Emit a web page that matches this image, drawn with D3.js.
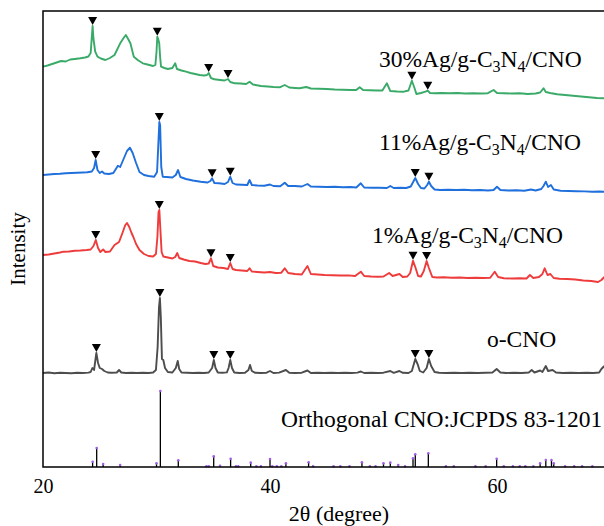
<!DOCTYPE html>
<html><head><meta charset="utf-8">
<script src="https://cdn.jsdelivr.net/npm/d3@7"></script>
<style>
html,body{margin:0;padding:0;background:#fff;}
svg{display:block;font-family:"Liberation Serif","Times New Roman",serif;}
</style>
</head><body>
<svg id="c" width="604" height="526"></svg>
<script>
// ---------- DATA ----------
const xTicks = [20, 40, 60];
const xLabel = "2θ (degree)";
const yLabel = "Intensity";

// stacked patterns, [2θ, intensity (a.u., offset included)]
const oCNO = [[20,94],[20.5,94.5],[21,93.8],[21.5,94.3],[22,94],[22.5,93.7],[23,94.2],[23.5,94],[24,94.4],[24.2,95],[24.35,99],[24.5,97],[24.7,114],[24.85,104],[25,99],[25.2,98],[25.4,96],[25.7,94.5],[26,94.2],[26.5,94.5],[26.7,97],[26.9,94.5],[27.3,94],[27.8,94.3],[28.3,94],[28.8,94.2],[29.3,94],[29.7,94.5],[29.95,97],[30.1,120],[30.22,160],[30.3,169],[30.38,150],[30.48,108],[30.6,107],[30.75,99],[31,95],[31.4,94.5],[31.7,99],[31.87,106],[32,98],[32.2,94.5],[32.7,94.2],[33.2,94],[33.7,94.3],[34.2,94],[34.6,94.5],[34.9,99],[35.05,107],[35.2,99],[35.4,94.5],[35.8,94.2],[36.2,94.6],[36.35,99],[36.5,107],[36.65,99],[36.85,94.5],[37.3,94],[37.8,94.3],[38.1,97],[38.24,102],[38.4,96],[38.7,94.2],[39.2,94],[39.7,94.3],[40,96],[40.3,94],[40.8,94.4],[41.4,97],[41.7,94.2],[42.2,94],[42.8,94.3],[43.3,96.5],[43.6,94],[44.2,94.2],[44.8,94],[45.4,94.3],[46,94],[46.6,94.2],[47.2,94],[47.7,94.4],[48,95.5],[48.3,94],[48.9,94.2],[49.5,94],[50,94.3],[50.6,96],[50.9,94.2],[51.4,96],[51.7,94.2],[52.2,94],[52.5,96],[52.8,108],[53,103],[53.2,96],[53.5,94.5],[53.8,99],[54,108],[54.2,101],[54.5,95],[54.9,94.2],[55.5,94],[56.2,94.3],[56.9,94],[57.6,94.2],[58.3,94],[59,94.3],[59.6,94.5],[59.97,98],[60.3,94.5],[60.8,94],[61.5,94.2],[62.2,94],[62.8,94.5],[63.06,97],[63.3,94.5],[63.8,96.5],[64,95],[64.3,101],[64.5,96],[64.9,97],[65.2,94.5],[65.8,94],[66.5,94.2],[67.2,94],[67.9,94.3],[68.5,94],[69,94.5],[69.2,98],[69.45,101]];

const ag1 = [[20,212],[20.5,212.5],[21,213.5],[21.5,214.5],[21.8,215.3],[22.3,215.5],[22.8,216.3],[23.3,216.5],[23.85,217],[24.2,217.5],[24.45,221],[24.65,227],[24.85,219],[25.05,215],[25.3,217.5],[25.5,215],[25.9,215.5],[26.3,222],[26.7,225],[27,234],[27.25,242],[27.4,244],[27.6,240],[27.8,234],[27.96,230],[28.2,223],[28.5,217],[28.9,213],[29.3,211],[29.7,210.5],[29.95,213],[30.08,230],[30.18,255],[30.25,257],[30.33,240],[30.45,215],[30.6,210.5],[31,209.5],[31.4,208.5],[31.65,210],[31.83,214],[32,209],[32.4,207.5],[32.9,206],[33.4,205.5],[33.9,204],[34.3,203],[34.6,203.5],[34.8,208.7],[35,201],[35.4,199.5],[35.9,199],[36.3,198],[36.5,204],[36.7,198],[37,197],[37.5,196.5],[38,196],[38.2,198.7],[38.4,195.5],[38.9,195],[39.5,194.5],[40,195],[40.5,194],[41,194.3],[41.3,198.7],[41.6,194],[42.2,193],[42.8,192.5],[43.3,201],[43.6,193],[44.2,192.5],[44.8,192],[45.5,191.8],[46.2,191.5],[46.9,191.6],[47.5,191],[48,195.3],[48.3,191],[48.9,190.5],[49.5,190.3],[50,190.5],[50.5,194],[50.8,191],[51.4,193],[51.7,190],[52.1,190.5],[52.35,194],[52.6,206.3],[52.8,200],[53.05,191],[53.3,190.5],[53.55,196],[53.8,206],[54,199],[54.3,190],[54.7,189.5],[55.3,189.8],[56,189.3],[56.7,189.5],[57.4,189],[58.1,189.3],[58.8,189],[59.4,189.2],[59.8,195.3],[60.1,190],[60.6,188.8],[61.3,188.5],[62,188.7],[62.6,188.5],[62.9,192],[63.2,189],[63.7,190],[64,193],[64.2,198.7],[64.45,192],[64.7,193],[65,189],[65.5,188.3],[66.2,188],[66.9,187.5],[67.6,186.5],[68.3,186],[68.9,185],[69.2,187],[69.45,190]];

const ag11 = [[20,292],[20.5,292.5],[21,293],[21.5,293.3],[22,293.8],[22.5,294],[23,294.3],[23.5,294.5],[23.9,294.7],[24.3,295.5],[24.5,299],[24.64,307],[24.8,297],[25,294],[25.2,295.5],[25.4,293.5],[25.8,293],[26.2,294],[26.6,301.3],[26.8,300],[27.1,308],[27.4,316],[27.66,319.3],[27.9,314],[28.2,304],[28.5,295],[28.9,292],[29.3,291],[29.8,290.3],[30.05,295],[30.15,320],[30.25,345],[30.32,342],[30.42,300],[30.55,290.3],[30.9,290],[31.4,289.5],[31.7,292],[31.9,297],[32.1,290],[32.6,288],[33.2,286.5],[33.9,285.3],[34.5,284.5],[34.75,286],[34.9,288.7],[35.1,284],[35.5,283.7],[36,283],[36.3,285],[36.5,290.3],[36.7,284],[37,282.5],[37.5,282.3],[38,282],[38.2,287],[38.4,282],[38.9,281.5],[39.5,281.3],[40,282.5],[40.3,281],[40.9,280.8],[41.3,284.3],[41.6,281],[42.2,281],[42.8,280.5],[43.3,283],[43.6,280.5],[44.3,280.3],[45,280],[45.7,280.2],[46.4,279.8],[47.1,280],[47.6,279.5],[48,283.7],[48.3,279.5],[49,279.3],[49.6,279.2],[50.3,279],[50.6,281],[50.9,279],[51.5,279.3],[52,279],[52.4,280.5],[52.8,289],[53.05,283],[53.3,279],[53.6,278.5],[53.85,282],[54,285.3],[54.2,281],[54.5,277.5],[55,277],[55.7,277.3],[56.4,277],[57.1,277.2],[57.8,276.8],[58.5,277],[59.2,276.5],[59.7,277],[60,280.3],[60.3,277],[61,276.5],[61.7,276.8],[62.4,276.3],[63,277.5],[63.4,276.5],[63.9,278],[64.1,281],[64.3,285.3],[64.5,280],[64.75,282],[65,277.5],[65.6,276.3],[66.3,276],[67,275.8],[67.7,275.6],[68.4,275.3],[69,275.5],[69.45,275.3]];

const ag30 = [[20,400.3],[20.4,401.5],[20.8,403],[21.2,404.5],[21.6,406],[22,405.5],[22.4,407.5],[22.8,408],[23.3,408.7],[23.7,409.5],[24,410.5],[24.2,414],[24.3,430],[24.37,441],[24.45,428],[24.6,415.3],[24.8,410.3],[25.1,408.5],[25.5,407],[25.9,409],[26.3,412],[26.8,423.7],[27.1,429],[27.3,432],[27.5,428],[27.7,423.7],[28,410.3],[28.4,406.5],[28.8,403.7],[29.2,402.5],[29.7,401],[29.9,402],[30,415],[30.07,430.3],[30.15,428],[30.24,423.7],[30.32,410],[30.4,400.3],[30.7,399],[31,398],[31.4,399],[31.65,403.7],[31.8,398],[32.2,396.5],[32.6,395.3],[33,394],[33.4,393],[33.8,392],[34.2,391.5],[34.45,392],[34.6,394],[34.8,389],[35.1,387.7],[35.6,387],[36,386.5],[36.3,388],[36.5,385],[36.9,383.7],[37.4,383.5],[37.9,383],[38.2,385.3],[38.5,382.5],[39.2,381],[39.8,380.5],[40.3,380],[40.9,379.8],[41.3,382],[41.7,379.5],[42.2,379],[42.6,378.7],[43.2,380],[43.6,378.5],[44.3,378.3],[45,378],[45.7,377.5],[46.4,377.3],[47.1,377],[47.6,377],[47.9,379.7],[48.2,377],[48.8,376.8],[49.4,376.5],[49.9,376.5],[50.3,383.7],[50.6,376],[51.2,375.5],[51.8,375.3],[52.2,376.5],[52.5,386.3],[52.7,380],[52.9,373],[53.3,374],[53.7,375.3],[53.9,376.3],[54.1,374],[54.5,373.7],[55.1,374],[55.8,373.7],[56.5,374],[57.2,373.5],[57.9,373.7],[58.6,373.5],[59.2,373.8],[59.7,377],[60,374],[60.6,373.7],[61.3,373.5],[62,373.7],[62.7,373],[63.4,373.5],[63.8,374.5],[64.1,378.7],[64.3,375],[64.5,374.5],[64.8,373.7],[65.3,372.7],[66,372],[66.7,371.3],[67.4,370.5],[68.1,369.7],[68.8,369],[69.45,368.7]];

// CNO reflections marked with ▼
const oCNOMarks = [24.7, 30.3, 35.05, 36.5, 52.8, 54.0];
const ag1Marks  = [24.65, 30.25, 34.8, 36.5, 52.6, 53.8];
const ag11Marks = [24.64, 30.25, 34.9, 36.5, 52.8, 54.0];
const ag30Marks = [24.37, 30.07, 34.6, 36.3, 52.5, 53.9];

const seriesLabels = ["o-CNO", "1%Ag/g-C_3N_4/CNO", "11%Ag/g-C_3N_4/CNO", "30%Ag/g-C_3N_4/CNO"];
const refLabel = "Orthogonal CNO:JCPDS 83-1201";

// JCPDS 83-1201 reference lines (relative intensity)
const refAngles  = [24.37,24.73,25.3,26.8,30.0,30.34,31.92,34.4,34.6,35.04,35.6,36.53,37.0,37.2,38.3,38.8,39.2,40.0,40.2,40.6,41.0,41.4,43.4,43.8,45.6,46.2,47.0,48.1,48.8,49.3,50.0,50.6,51.3,51.9,52.6,52.8,53.95,55.5,56.2,58.1,59.0,59.97,60.6,61.4,62.0,62.5,63.2,63.8,64.3,64.8,65.0,66.0,66.8,67.5,68.4];
const refHeights = [7,25,4,2.6,4.8,100,8.8,1,1,14,1.5,10.9,1,1,5.7,1,1,10.5,1,1,1,4.8,6.2,1,1,1,1,6.2,1,1,4.8,5.7,2.6,1,11.4,16.7,18,1,1,1,1,10.9,1,1,1,1,1,4.8,9.2,9.2,4.8,1,1,1,1];

// ---------- DRAW ----------
const svg = d3.select("#c");
const FONT = '"Liberation Serif","Times New Roman",serif';
const x = d3.scaleLinear().domain([20, 70]).range([43, 610.5]);
const y = d3.scaleLinear().domain([0, 456]).range([467, 11]);
const yRef = d3.scaleLinear().domain([0, 100]).range([467, 391]);

const series = [
  {data: oCNO, marks: oCNOMarks, color: "#4d4d4d"},
  {data: ag1,  marks: ag1Marks,  color: "#ee3b3b"},
  {data: ag11, marks: ag11Marks, color: "#1f6fdc"},
  {data: ag30, marks: ag30Marks, color: "#3aaa68"}
];
const labelLayout = [[487, 347], [372, 243], [379, 150], [379, 67]];

// reference sticks
const refData = refAngles.map((a, i) => ({a, h: refHeights[i]}));
svg.append("g").selectAll("line").data(refData).join("line")
  .attr("x1", d => x(d.a)).attr("x2", d => x(d.a))
  .attr("y1", yRef(0)).attr("y2", d => yRef(d.h))
  .attr("stroke", "#000").attr("stroke-width", 1.3);
svg.append("g").selectAll("circle").data(refData).join("circle")
  .attr("cx", d => x(d.a)).attr("cy", d => yRef(d.h))
  .attr("r", 1.3).attr("fill", "#a35ee6");

// curves
const line = d3.line().x(d => x(d[0])).y(d => y(d[1]));
series.forEach(s => {
  svg.append("path").datum(s.data).attr("d", line)
    .attr("fill", "none").attr("stroke", s.color)
    .attr("stroke-width", 1.9).attr("stroke-linejoin", "round");
  // markers
  s.marks.forEach(m => {
    const near = s.data.filter(d => Math.abs(d[0] - m) <= 0.2);
    const vmax = d3.max(near, d => d[1]);
    const cx = x(m), ty = y(vmax) - 1;
    svg.append("path")
      .attr("d", `M${cx - 4.5},${ty - 8}L${cx + 4.5},${ty - 8}L${cx},${ty}Z`)
      .attr("fill", "#000");
  });
});

// labels with subscripts
function addLabel(str, px, py) {
  const t = svg.append("text").attr("x", px).attr("y", py)
    .attr("font-family", FONT).attr("font-size", 23.5).attr("fill", "#000");
  const parts = str.split(/(_\d)/).filter(p => p.length);
  let pending = 0;
  parts.forEach(p => {
    if (p[0] === "_") {
      t.append("tspan").attr("font-size", 16).attr("dy", 5 + pending).text(p.slice(1));
      pending = -5;
    } else {
      t.append("tspan").attr("dy", pending).text(p);
      pending = 0;
    }
  });
}
seriesLabels.forEach((l, i) => addLabel(l, labelLayout[i][0], labelLayout[i][1]));
addLabel(refLabel, 281, 427);

// frame
svg.append("rect").attr("x", 43).attr("y", 11).attr("width", 567.5).attr("height", 456)
  .attr("fill", "none").attr("stroke", "#000").attr("stroke-width", 1.5);

// x axis
const ax = svg.append("g").attr("transform", "translate(0,467)")
  .call(d3.axisBottom(x).tickValues(xTicks).tickSize(0).tickPadding(12).tickFormat(d3.format("d")));
ax.select(".domain").remove();
ax.selectAll("text").attr("font-family", FONT).attr("font-size", 20).attr("fill", "#000");

svg.append("text").attr("x", 339).attr("y", 521).attr("text-anchor", "middle")
  .attr("font-family", FONT).attr("font-size", 22).text(xLabel);
svg.append("text").attr("transform", "translate(25,249) rotate(-90)").attr("text-anchor", "middle")
  .attr("font-family", FONT).attr("font-size", 21).text(yLabel);
</script>
</body></html>
